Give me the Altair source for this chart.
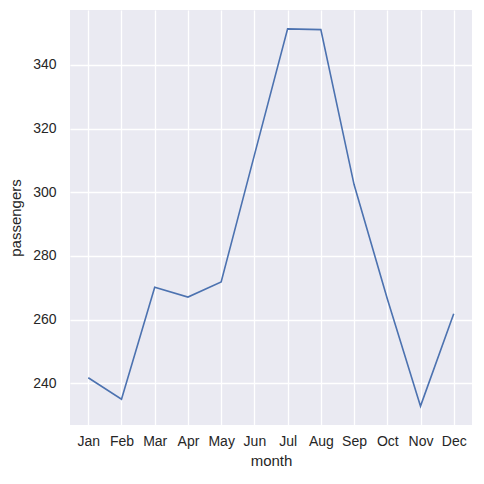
import altair as alt
import pandas as pd

months = ["Jan", "Feb", "Mar", "Apr", "May", "Jun", "Jul", "Aug", "Sep", "Oct", "Nov", "Dec"]
passengers = [241.75, 235.0, 270.17, 267.08, 271.83, 311.67, 351.33, 351.08, 302.42, 266.58, 232.83, 261.83]

df = pd.DataFrame({"month": months, "passengers": passengers})

font = "Liberation Sans"
chart = alt.Chart(df).mark_line(color="#4C72B0", strokeWidth=1.6).encode(
    x=alt.X("month:O", sort=months,
            scale=alt.Scale(type="point", padding=0.55),
            axis=alt.Axis(title="month", labelAngle=0, ticks=False, domain=False,
                          grid=True, gridColor="white", gridWidth=1.3,
                          labelPadding=9, titlePadding=5)),
    y=alt.Y("passengers:Q", scale=alt.Scale(domain=[226.9, 357.25], nice=False, zero=False),
            axis=alt.Axis(title="passengers", values=[240, 260, 280, 300, 320, 340],
                          ticks=False, domain=False, grid=True, gridColor="white", gridWidth=1.3,
                          labelPadding=14, titlePadding=9)),
).properties(
    width=402, height=415,
    autosize=alt.AutoSizeParams(type="none"),
    padding={"left": 70, "top": 10, "right": 12, "bottom": 59},
).configure_view(
    fill="#EAEAF2", stroke=None
).configure_axis(
    labelFont=font, titleFont=font, labelFontSize=14, titleFontSize=15,
    labelColor="#262626", titleColor="#262626", titleFontWeight="normal",
)

chart.save("out.html", embed_options={"renderer": "svg", "actions": False})
